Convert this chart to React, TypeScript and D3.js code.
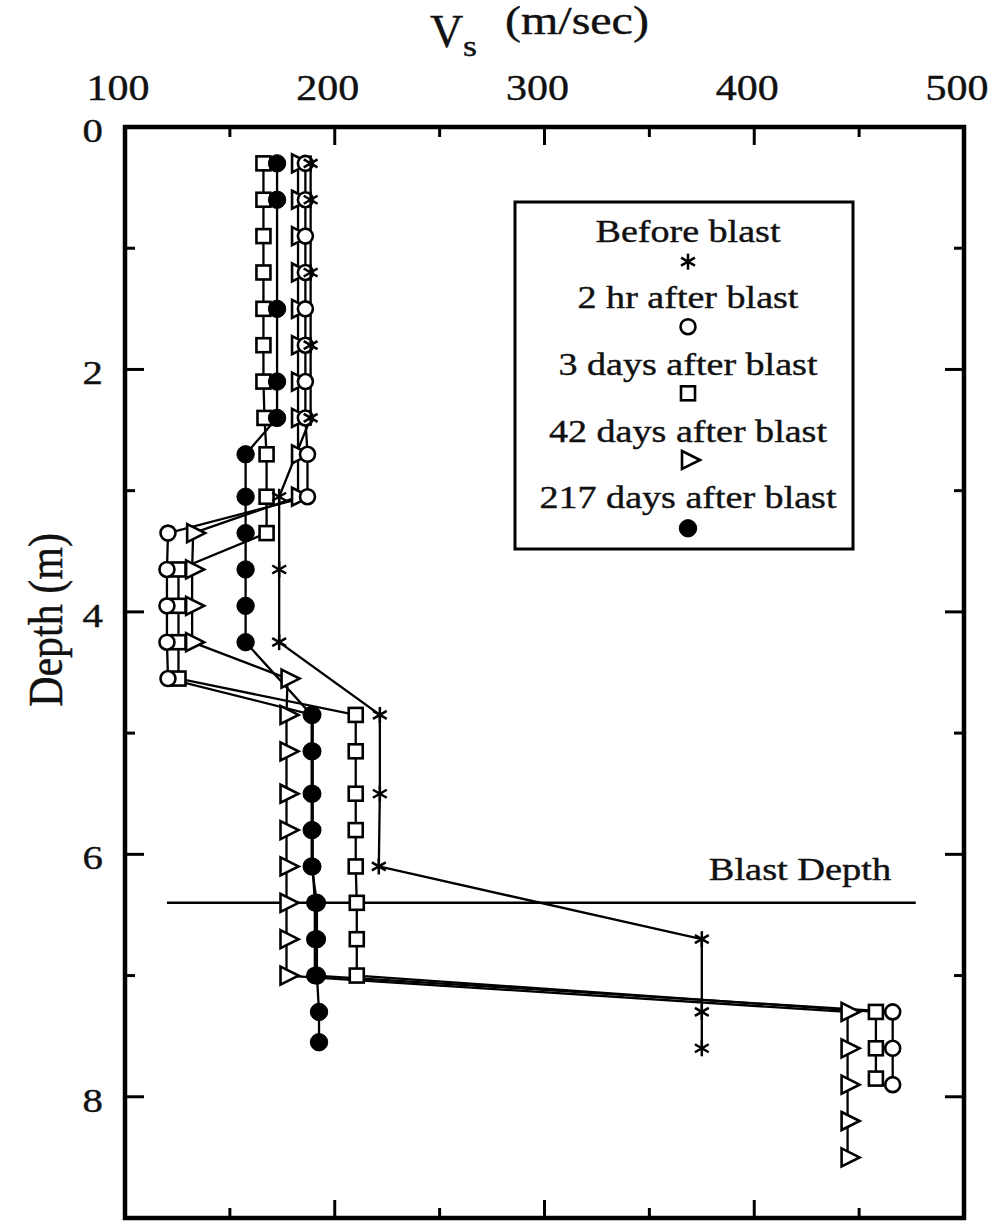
import React from "react";
import * as d3 from "d3";

// ---- data (depth in m, Vs in m/sec) ----
const beforeDepth = [0.3, 0.6, 1.2, 1.8, 2.4, 3.05, 3.65, 4.25, 4.85, 5.5, 6.1, 6.7, 7.3, 7.6];
const beforeVs = [188.5, 188.5, 188.5, 188.5, 188.5, 173.5, 173.5, 173.5, 221.5, 221.5, 221, 375, 375, 375];

const twoHrDepth = [0.3, 0.6, 0.9, 1.2, 1.5, 1.8, 2.1, 2.4, 2.7, 3.05, 3.35, 3.65, 3.95, 4.25, 4.55, 4.85, 5.15, 5.5, 5.8, 6.1, 6.4, 6.7, 7.0, 7.3, 7.6, 7.9];
const twoHrVs = [186, 186, 186, 186, 186, 186, 186, 186, 187, 187, 120.5, 120, 120, 120, 120.5, 189.5, 189.5, 189.5, 189.5, 189.5, 190.5, 190.5, 190.5, 466, 466, 466];

const threeDayDepth = [0.3, 0.6, 0.9, 1.2, 1.5, 1.8, 2.1, 2.4, 2.7, 3.05, 3.35, 3.65, 3.95, 4.25, 4.55, 4.85, 5.15, 5.5, 5.8, 6.1, 6.4, 6.7, 7.0, 7.3, 7.6, 7.85];
const threeDayVs = [166, 166, 166, 166, 166, 166, 166, 166.5, 167.5, 167.5, 167.5, 125.5, 125.5, 125.5, 125.5, 210, 210, 210, 210, 210, 210.5, 210.5, 210.5, 458, 458, 458];

const fortyTwoDepth = [0.3, 0.6, 0.9, 1.2, 1.5, 1.8, 2.1, 2.4, 2.7, 3.05, 3.35, 3.65, 3.95, 4.25, 4.55, 4.85, 5.15, 5.5, 5.8, 6.1, 6.4, 6.7, 7.0, 7.3, 7.6, 7.9, 8.2, 8.5];
const fortyTwoVs = [182.5, 182.5, 182.5, 182.5, 182.5, 182.5, 182.5, 182.5, 182.5, 182.5, 132.5, 132, 132, 132, 177.5, 177, 177, 177, 177, 177, 177, 177, 177, 444.5, 444.5, 444.5, 444.5, 444.5];

const day217Depth = [0.3, 0.6, 1.5, 2.1, 2.4, 2.7, 3.05, 3.35, 3.65, 3.95, 4.25, 4.85, 5.15, 5.5, 5.8, 6.1, 6.4, 6.7, 7.0, 7.3, 7.55];
const day217Vs = [172.5, 172.5, 172.5, 172.5, 172.5, 157.5, 157.5, 157.5, 157.5, 157.5, 157.5, 189, 189, 189, 189, 189, 191.5, 191.5, 191.5, 192.5, 192.5];

const legendLabels = ["Before blast", "2 hr after blast", "3 days after blast", "42 days after blast", "217 days after blast"];
const markerKinds = ["star", "circle", "square", "triangle", "filled"];

const xTicks = [100, 150, 200, 250, 300, 350, 400, 450, 500];
const xLabels = [100, 200, 300, 400, 500];
const yTicks = [0, 1, 2, 3, 4, 5, 6, 7, 8, 9];
const yLabels = [0, 2, 4, 6, 8];
const blastDepth = 6.4;
const blastRange = [120, 477];

const FONT = "'Liberation Serif', 'Times New Roman', Times, serif";
const SX = 1.2;

const W = 995;
const H = 1222;
const L = 125, R = 964, T0 = 127, B = 1218;

const x = d3.scaleLinear().domain([100, 500]).range([L, R]);
const y = d3.scaleLinear().domain([0, 9]).range([T0, B]);

function Txt({ x, y, size, anchor = "middle", sx = SX, rotate = 0, children }: any) {
  return (
    <text
      transform={`translate(${x},${y}) scale(${sx},1)${rotate ? ` rotate(${rotate})` : ""}`}
      fontSize={size}
      textAnchor={anchor}
      fontFamily={FONT}
      fill="#111"
      stroke="#111"
      strokeWidth={0.4}
    >
      {children}
    </text>
  );
}

function Marker({ kind, cx, cy }: { kind: string; cx: number; cy: number }) {
  const sw = 2.6;
  if (kind === "circle")
    return <circle cx={cx} cy={cy} r={7.5} fill="#fff" stroke="#000" strokeWidth={sw} />;
  if (kind === "filled") return <circle cx={cx} cy={cy} r={8.7} fill="#000" stroke="#000" strokeWidth={1} />;
  if (kind === "square")
    return <rect x={cx - 7} y={cy - 7} width={14} height={14} fill="#fff" stroke="#000" strokeWidth={sw} />;
  if (kind === "triangle")
    return (
      <polygon
        points={`${cx - 6},${cy - 9} ${cx + 12},${cy} ${cx - 6},${cy + 9}`}
        fill="#fff"
        stroke="#000"
        strokeWidth={sw}
        strokeLinejoin="miter"
      />
    );
  // star (asterisk)
  const r = 8;
  const angs = [90, 30, -30];
  return (
    <g stroke="#000" strokeWidth={2.5}>
      {angs.map((a) => {
        const rad = (a * Math.PI) / 180;
        const dx = r * Math.cos(rad);
        const dy = r * Math.sin(rad);
        return <line key={a} x1={cx - dx} y1={cy - dy} x2={cx + dx} y2={cy + dy} />;
      })}
    </g>
  );
}

const series = [
  { kind: "star", depth: beforeDepth, vs: beforeVs },
  { kind: "circle", depth: twoHrDepth, vs: twoHrVs },
  { kind: "square", depth: threeDayDepth, vs: threeDayVs },
  { kind: "triangle", depth: fortyTwoDepth, vs: fortyTwoVs },
  { kind: "filled", depth: day217Depth, vs: day217Vs },
];
const drawOrder = ["triangle", "square", "circle", "star", "filled"];

export default function App() {
  const line = d3
    .line<[number, number]>()
    .x((d) => x(d[0]))
    .y((d) => y(d[1]));

  const legendCx = 688;
  const legendBase = [241.7, 308.3, 375, 441.7, 508.3];
  const legendMarkY = [261.7, 326.7, 393.3, 460, 528.3];

  return (
    <svg
      width={W}
      height={H}
      viewBox={`0 0 ${W} ${H}`}
      style={{ position: "absolute", left: 0, top: 0, background: "#fff", display: "block" }}
    >
      <rect x={0} y={0} width={W} height={H} fill="#fff" />

      {/* title */}
      <Txt x={430} y={47} size={46} anchor="start" sx={1}>V</Txt>
      <Txt x={463} y={56} size={30} anchor="start">s</Txt>
      <Txt x={505} y={34} size={40} anchor="start">(m/sec)</Txt>

      {/* y label */}
      <Txt x={62} y={620} size={42} sx={1.15} rotate={-90}>Depth (m)</Txt>

      {/* top tick labels */}
      {xLabels.map((v) => (
        <Txt key={v} x={x(v) - 7} y={100} size={35}>{v}</Txt>
      ))}
      {/* y tick labels */}
      {yLabels.map((d) => (
        <Txt key={d} x={103} y={y(d) + 15} size={34} anchor="end">{d}</Txt>
      ))}

      {/* ticks */}
      <g stroke="#000" strokeWidth={3}>
        {xTicks.map((v) => {
          const len = v % 100 === 0 ? 18 : 10;
          return (
            <g key={v}>
              <line x1={x(v)} x2={x(v)} y1={T0} y2={T0 + len} />
              <line x1={x(v)} x2={x(v)} y1={B} y2={B - len} />
            </g>
          );
        })}
        {yTicks.map((d) => {
          const len = d % 2 === 0 ? 19 : 10;
          return (
            <g key={d}>
              <line x1={L} x2={L + len} y1={y(d)} y2={y(d)} />
              <line x1={R} x2={R - len} y1={y(d)} y2={y(d)} />
            </g>
          );
        })}
      </g>

      {/* blast depth */}
      <line x1={x(blastRange[0])} x2={x(blastRange[1])} y1={y(blastDepth)} y2={y(blastDepth)} stroke="#000" strokeWidth={2.6} />
      <Txt x={800} y={880} size={32}>Blast Depth</Txt>

      {/* series lines */}
      {series.map((s) => (
        <path
          key={s.kind}
          d={line(s.vs.map((v, i) => [v, s.depth[i]] as [number, number])) || ""}
          fill="none"
          stroke="#000"
          strokeWidth={2.3}
        />
      ))}

      {/* markers */}
      {drawOrder.map((k) => {
        const s = series.find((q) => q.kind === k)!;
        return (
          <g key={k}>
            {s.vs.map((v, i) => (
              <Marker key={i} kind={k} cx={x(v)} cy={y(s.depth[i])} />
            ))}
          </g>
        );
      })}

      {/* frame */}
      <rect x={L} y={T0} width={R - L} height={B - T0} fill="none" stroke="#000" strokeWidth={4.5} />

      {/* legend */}
      <rect x={515} y={202} width={338} height={347} fill="#fff" stroke="#000" strokeWidth={3} />
      {legendLabels.map((lab, i) => (
        <g key={lab}>
          <Txt x={legendCx} y={legendBase[i]} size={32} sx={1.19}>{lab}</Txt>
          <Marker kind={markerKinds[i]} cx={legendCx} cy={legendMarkY[i]} />
        </g>
      ))}
    </svg>
  );
}
